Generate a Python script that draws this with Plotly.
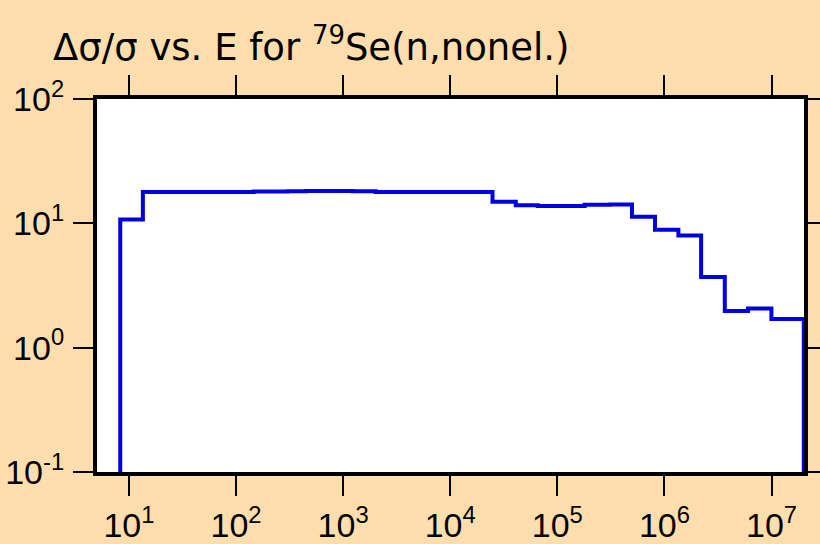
import plotly.graph_objects as go

# Energy group boundaries (eV) and relative uncertainty (%) per group
energy_edges = [8.3, 13.5, 146, 306, 454, 750, 1230, 2010, 3380, 5530, 9220,
                24800, 40900, 65600, 180000, 308000, 498000, 816000, 1.35e6,
                2.2e6, 3.66e6, 6.03e6, 9.97e6, 2.0e7]
rel_unc = [10.75, 17.9, 18.0, 18.1, 18.2, 18.2, 18.1, 17.9, 17.9, 17.9, 17.9,
           14.9, 14.0, 13.8, 14.1, 14.2, 11.3, 8.9, 8.0, 3.7, 1.97, 2.07, 1.70]
floor_value = 1e-3  # baseline the histogram drops to (below axis range)

x_ticks = [10, 100, 1e3, 1e4, 1e5, 1e6, 1e7]
x_ticktext = ["10<sup>1</sup>", "10<sup>2</sup>", "10<sup>3</sup>", "10<sup>4</sup>",
              "10<sup>5</sup>", "10<sup>6</sup>", "10<sup>7</sup>"]
y_ticks = [0.1, 1, 10, 100]
y_ticktext = ["10<sup>-1</sup>", "10<sup>0</sup>", "10<sup>1</sup>", "10<sup>2</sup>"]

xs = [energy_edges[0]] + energy_edges + [energy_edges[-1]]
ys = [floor_value] + rel_unc + [rel_unc[-1], floor_value]

FONT = "Liberation Sans, Arial, Helvetica, sans-serif"
TITLE_FONT = "DejaVu Sans, Liberation Sans, Arial, sans-serif"

fig = go.Figure()
fig.add_trace(go.Scatter(x=xs, y=ys, mode="lines", line_shape="hv",
                         line=dict(color="#0000E0", width=4), hoverinfo="skip"))

axis_common = dict(showline=True, linecolor="black", linewidth=4, mirror="ticks",
                   ticks="outside", ticklen=20, tickwidth=2, tickcolor="black",
                   showgrid=False, zeroline=False, automargin=False,
                   tickfont=dict(family=FONT, size=34, color="black"))

fig.update_xaxes(type="log", range=[0.702, 7.303], tickvals=x_ticks,
                 ticktext=x_ticktext, **axis_common)
fig.update_yaxes(type="log", range=[-1, 2], tickvals=y_ticks,
                 ticktext=y_ticktext, ticklabelstandoff=2, **axis_common)

fig.update_layout(
    width=820, height=544,
    margin=dict(l=97, r=16, t=99, b=72),
    paper_bgcolor="#FFDEAD", plot_bgcolor="white",
    showlegend=False,
    title=dict(text="Δσ/σ vs. E for <sup>79</sup>Se(n,nonel.)",
               font=dict(family=TITLE_FONT, size=37, color="black"),
               xref="container", yref="container",
               x=53/820, xanchor="left", y=1 - 47/544, yanchor="middle"),
)

fig.write_html("out.html", config={"displayModeBar": False},
               post_script="document.body.style.margin='0';")
